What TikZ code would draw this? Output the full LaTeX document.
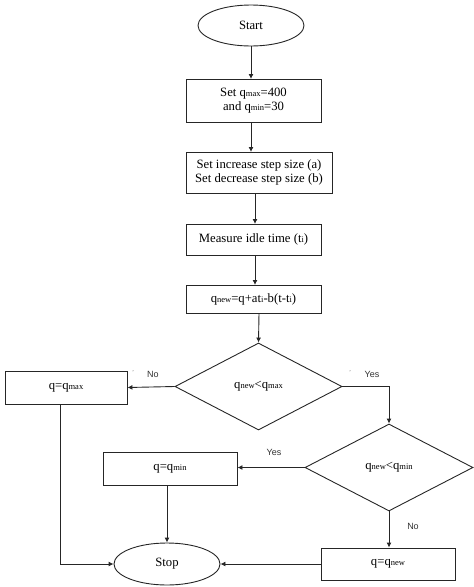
\documentclass[tikz,border=0pt]{standalone}
\usepackage{fontspec}
\setmainfont{Liberation Serif}
\setsansfont{Liberation Sans}
\usetikzlibrary{shapes.geometric,arrows.meta}
\newcommand{\sbs}[1]{{\fontsize{8.5}{9}\selectfont #1}}
\tikzset{
  every picture/.style={line width=0.9pt},
  box/.style={draw=black!85, rectangle, inner sep=0pt, font=\fontsize{12.7}{14.5}\selectfont, align=center},
  term/.style={draw=black!85, ellipse, inner sep=0pt, font=\fontsize{12.7}{14.5}\selectfont},
  dec/.style={draw=black!85, diamond, inner sep=0pt, font=\fontsize{12.7}{14.5}\selectfont},
  arr/.style={draw=black!85, -{Latex[length=5pt,width=5pt]}},
  lbl/.style={font=\sffamily\fontsize{9}{10}\selectfont, text=black!80},
  tick/.style={font=\fontsize{6}{6}\selectfont, text=black!60, inner sep=0pt}
}
\begin{document}
\begin{tikzpicture}[x=1pt,y=-1pt]
\useasboundingbox (0,0) rectangle (474,587);
\node[term, minimum width=106pt, minimum height=41pt] (start) at (251,25.5) {Start};
\node[box, minimum width=135pt, minimum height=43pt] (b1) at (253.5,100.5) {Set q\sbs{max}=400\\and q\sbs{min}=30};
\node[box, minimum width=146pt, minimum height=41pt] (b2) at (259,172.5) {Set increase step size (a)\\Set decrease step size (b)};
\node[box, minimum width=135pt, minimum height=31pt] (b3) at (253.5,239.5) {Measure idle time (t\sbs{i})};
\node[box, minimum width=135pt, minimum height=28pt] (b4) at (253.5,299) {q\sbs{new}=q+at\sbs{i}-b(t-t\sbs{i})};
\node[dec, minimum width=167pt, minimum height=87pt, aspect=1.92] (d1) at (258.5,386.5) {q\sbs{new}<q\sbs{max}};
\node[box, minimum width=122pt, minimum height=33pt] (qmax) at (66,387.5) {q=q\sbs{max}};
\node[dec, minimum width=168pt, minimum height=87pt, aspect=1.93] (d2) at (389,467.5) {q\sbs{new}<q\sbs{min}};
\node[box, minimum width=134pt, minimum height=33pt] (qmin) at (170,468.5) {q=q\sbs{min}};
\node[box, minimum width=134pt, minimum height=32pt] (qnew) at (388,564) {q=q\sbs{new}};
\node[term, minimum width=106pt, minimum height=42pt] (stop) at (167,564) {Stop};
\coordinate (c1) at (251,79);
\coordinate (c2) at (251,152);
\coordinate (c3) at (255,224);
\coordinate (c4) at (255,285);
\coordinate (c5) at (259,343);
\draw[arr] (start.south) -- (c1);
\draw[arr] (c1 |- b1.south) -- (c2);
\draw[arr] (c3 |- b2.south) -- (c3);
\draw[arr] (c4 |- b3.south) -- (c4);
\draw[arr] (c5 |- b4.south) -- (d1.north);
\draw[arr] (d1.west) -- (qmax.east);
\draw[arr] (d1.east) -| (d2.north);
\draw[arr] (d2.west) -- (qmin.east |- d2.west);
\draw[arr] (d2.south) -- (qnew.north -| d2.south);
\draw[arr] (qnew.west) -- (stop.east);
\draw[arr] (qmin.south -| stop.north) -- (stop.north);
\draw[arr] (60,404) |- (stop.west);
\node[lbl] (no1) at (153,374) {No};
\node[lbl] (yes1) at (372,374) {Yes};
\node[lbl] (yes2) at (274,452) {Yes};
\node[lbl] (no2) at (413,526) {No};
\node[tick] (t1) at (133,372) {'};
\node[tick] (t2) at (350,372) {'};
\end{tikzpicture}
\end{document}
